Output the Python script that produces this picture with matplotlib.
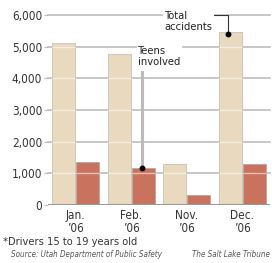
import matplotlib
matplotlib.use('Agg')
import matplotlib.pyplot as plt
import numpy as np

months = ["Jan.\n\u201906", "Feb.\n\u201906", "Nov.\n\u201906", "Dec.\n\u201906"]
total = [5100, 4780, 1290, 5470]
teens = [1350, 1180, 310, 1290]
yticks = [0, 1000, 2000, 3000, 4000, 5000, 6000]

tan = '#E8D9BF'
red = '#C9735E'
grid = '#BDBDBD'
txt = '#333333'
plt.rcParams['font.family'] = 'DejaVu Sans'
plt.rcParams['font.stretch'] = 'condensed'

fig = plt.figure(figsize=(2.72, 2.63), dpi=100)
ax = fig.add_axes([0.176, 0.2205, 0.817, 0.7225])

x = np.arange(len(months))
w = 0.41
off = 0.215

for t in yticks[1:]:
    ax.axhline(t, color=grid, lw=1.2, zorder=0, clip_on=False)
ax.axhline(0, color='#999999', lw=2.2, zorder=4)

ax.bar(x - off, total, w, color=tan, edgecolor='#C8C0B0', lw=0.6, zorder=2)
ax.bar(x + off, teens, w, color=red, edgecolor='#B8A8A0', lw=0.6, zorder=2)

# light gridline tint across the bars
for xi, h in zip(list(x - off) + list(x + off), total + teens):
    for t in yticks[1:]:
        if t < h:
            ax.hlines(t, xi - w / 2, xi + w / 2, color='white', lw=1.0, alpha=0.55, zorder=3)

ax.set_xlim(-0.5, 3.5)
ax.set_ylim(0, 6000)
ax.set_yticks(yticks)
ax.set_yticklabels([f'{v:,}' for v in yticks], fontsize=8.5, color=txt)
ax.set_xticks(x)
ax.set_xticklabels(months, fontsize=8.5, color=txt, linespacing=0.95)
ax.tick_params(axis='y', length=3, color=grid, pad=1)
ax.tick_params(axis='x', length=0, pad=3)
for s in ax.spines.values():
    s.set_visible(False)

# Total accidents callout
tx = 3 - off - 0.045
ax.plot([2.3, tx, tx], [6000, 6000, total[3] - 60], color='#333333', lw=0.8, zorder=5)
ax.text(1.6, 5790, 'Total\naccidents', ha='left', va='center', fontsize=8,
        color='#222222', linespacing=1.12, zorder=6,
        bbox=dict(boxstyle='square,pad=0.12', fc='white', ec='none'))
ax.plot(tx, total[3] - 60, 'o', color='black', ms=3.2, zorder=6)

# Teens involved callout
ax.text(1.12, 4690, 'Teens\ninvolved', ha='left', va='center', fontsize=8,
        color='#222222', linespacing=1.12, zorder=6,
        bbox=dict(boxstyle='square,pad=0.12', fc='white', ec='none'))
ax.plot([1 + off - 0.025, 1 + off - 0.025], [4200, teens[1]], color='#BBBBBB', lw=2.2, zorder=5)
ax.plot(1 + off - 0.025, teens[1], 'o', color='black', ms=3.2, zorder=6)

fig.text(0.012, 0.08, '*Drivers 15 to 19 years old', fontsize=7.9, color=txt, va='center')
fig.text(0.04, 0.034, 'Source: Utah Department of Public Safety', fontsize=5.8,
         style='italic', color='#555555', va='center')
fig.text(0.705, 0.034, 'The Salt Lake Tribune', fontsize=5.8,
         style='italic', color='#555555', va='center')

fig.savefig('out.png', dpi=100)
